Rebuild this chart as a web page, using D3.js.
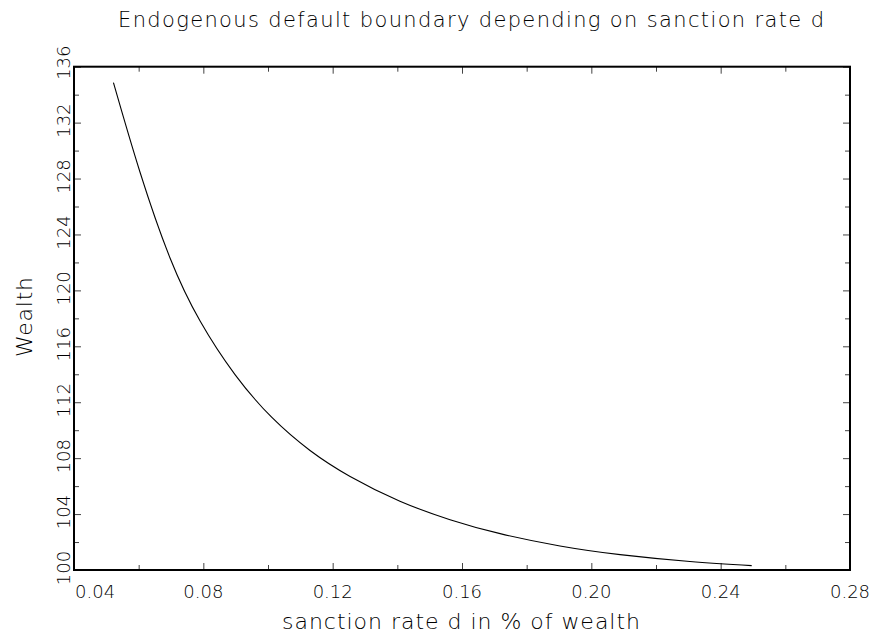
<!DOCTYPE html>
<html>
<head>
<meta charset="utf-8">
<script src="https://cdn.jsdelivr.net/npm/d3@7"></script>
<style>
  body { margin: 0; background: #fff; }
  text { font-family: "DejaVu Sans", sans-serif; font-weight: 200; fill: #000; }
</style>
</head>
<body>
<script>
// curve: sanction rate d vs default wealth boundary
var sanctionRate = [0.0522, 0.0604, 0.0697, 0.0790, 0.0898, 0.1012, 0.1130, 0.1254,
                    0.1408, 0.1563, 0.1718, 0.1903, 0.2089, 0.2305, 0.2496];
var wealth = [134.86, 128.47, 122.32, 117.81, 113.98, 110.91, 108.55, 106.69,
              104.92, 103.60, 102.60, 101.72, 101.10, 100.61, 100.31];

var xMajor = [0.04, 0.08, 0.12, 0.16, 0.20, 0.24, 0.28];
var xMinor = [0.06, 0.10, 0.14, 0.18, 0.22, 0.26];
var yMajor = [100, 104, 108, 112, 116, 120, 124, 128, 132, 136];
var yMinor = [102, 106, 110, 114, 118, 122, 126, 130, 134];

var titleText = "Endogenous default boundary depending on sanction rate d";
var xLabel = "sanction rate d in % of wealth";
var yLabel = "Wealth";

var width = 875, height = 643;
var x = d3.scaleLinear().domain([0.04, 0.28]).range([74, 850]);
var y = d3.scaleLinear().domain([100, 136]).range([570, 66.7]);

var svg = d3.select("body").append("svg")
  .attr("width", width)
  .attr("height", height);

// ticks on all four sides, pointing inward
function tickAxis(axisFn, scale, vals, size, tr) {
  var g = svg.append("g")
    .attr("transform", tr)
    .call(axisFn(scale).tickValues(vals).tickSize(size).tickFormat(""));
  g.select(".domain").remove();
  g.selectAll("line").attr("stroke", "#444").attr("stroke-width", 1);
  return g;
}
tickAxis(d3.axisBottom, x, xMinor, -5, "translate(0,570)");
tickAxis(d3.axisBottom, x, xMajor, -7, "translate(0,570)");
tickAxis(d3.axisTop, x, xMinor, -5, "translate(0,66.7)");
tickAxis(d3.axisTop, x, xMajor, -7, "translate(0,66.7)");
tickAxis(d3.axisLeft, y, yMinor, -5, "translate(74,0)");
tickAxis(d3.axisLeft, y, yMajor, -7, "translate(74,0)");
tickAxis(d3.axisRight, y, yMinor, -5, "translate(850,0)");
tickAxis(d3.axisRight, y, yMajor, -7, "translate(850,0)");

// x tick labels
svg.append("g").selectAll("text")
  .data(xMajor)
  .enter().append("text")
  .attr("x", function(d, i) { return i == 0 ? x(d) + 1 : x(d); })
  .attr("y", 598)
  .attr("text-anchor", function(d, i) { return i == 0 ? "start" : "middle"; })
  .style("font-size", "18px")
  .text(function(d) { return d3.format(".2f")(d); });

// y tick labels, rotated
svg.append("g").selectAll("text")
  .data(yMajor)
  .enter().append("text")
  .attr("transform", function(d) {
    var cy = y(d) - (d == 136 ? 4 : 2);
    return "translate(70," + cy + ") rotate(-90)";
  })
  .attr("text-anchor", "middle")
  .style("font-size", "18px")
  .text(function(d) { return d; });

// curve
var line = d3.line()
  .x(function(d, i) { return x(sanctionRate[i]); })
  .y(function(d) { return y(d); })
  .curve(d3.curveNatural);
svg.append("path")
  .datum(wealth)
  .attr("d", line)
  .attr("fill", "none")
  .attr("stroke", "#000")
  .attr("stroke-width", 1.1);

// frame
svg.append("rect")
  .attr("x", 74).attr("y", 66.7)
  .attr("width", 776).attr("height", 503.3)
  .attr("fill", "none")
  .attr("stroke", "#000")
  .attr("stroke-width", 2);

// title and axis labels
svg.append("text")
  .attr("x", 471).attr("y", 27)
  .attr("text-anchor", "middle")
  .attr("textLength", 706).attr("lengthAdjust", "spacing")
  .style("font-size", "21px")
  .text(titleText);

svg.append("text")
  .attr("x", 461).attr("y", 629)
  .attr("text-anchor", "middle")
  .attr("textLength", 358).attr("lengthAdjust", "spacing")
  .style("font-size", "22px")
  .text(xLabel);

svg.append("text")
  .attr("transform", "translate(32,317) rotate(-90)")
  .attr("text-anchor", "middle")
  .attr("textLength", 80).attr("lengthAdjust", "spacing")
  .style("font-size", "22px")
  .text(yLabel);
</script>
</body>
</html>
